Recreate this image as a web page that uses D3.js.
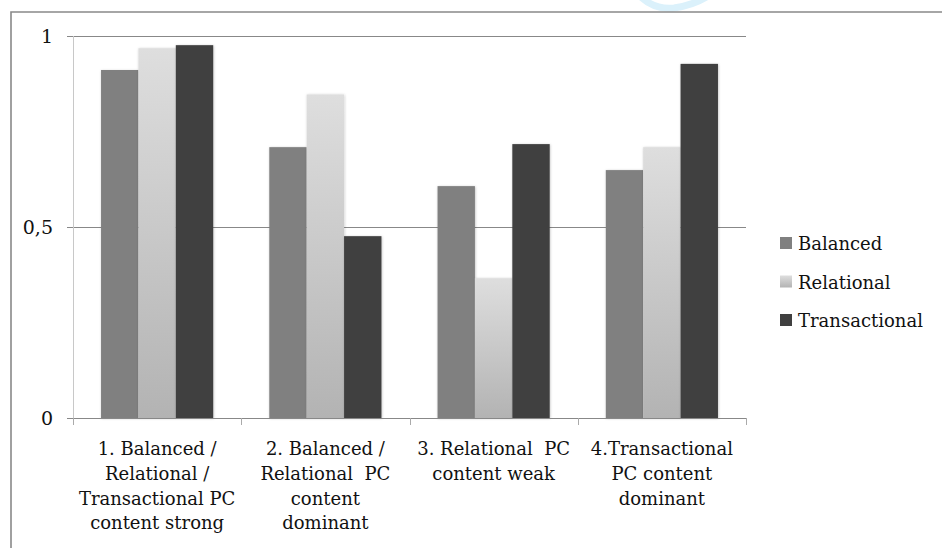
<!DOCTYPE html>
<html>
<head>
<meta charset="utf-8">
<script src="https://cdn.jsdelivr.net/npm/d3@7"></script>
<style>
  html, body { margin: 0; padding: 0; background: #fff; }
  svg { display: block; }
  text { font-family: "DejaVu Serif", "Liberation Serif", "Noto Serif", "Tinos", "FreeSerif", "Times New Roman", Times, serif; fill: #111; }
</style>
</head>
<body>
<div class="chart"></div>
<script>
// data
var categories = ["c1", "c2", "c3", "c4"];
var categoryLines = [
    ["1. Balanced /", "Relational /", "Transactional PC", "content strong"],
    ["2. Balanced /", "Relational  PC", "content", "dominant"],
    ["3. Relational  PC", "content weak"],
    ["4.Transactional", "PC content", "dominant"]
];
var seriesNames = ["Balanced", "Relational", "Transactional"];
var balanced = [0.911, 0.709, 0.607, 0.649];
var relational = [0.968, 0.847, 0.366, 0.709];
var transactional = [0.976, 0.476, 0.717, 0.927];
var yTicks = [0, 0.5, 1];
var yTickLabels = ["0", "0,5", "1"];

var seriesValues = [balanced, relational, transactional];

// canvas
var width = 942, height = 548;
var svg = d3.select(".chart").append("svg")
            .attr("width", width)
            .attr("height", height);

var defs = svg.append("defs");
var grad = defs.append("linearGradient").attr("id", "relGrad")
               .attr("x1", 0).attr("y1", 0).attr("x2", 0).attr("y2", 1);
grad.append("stop").attr("offset", "0%").attr("stop-color", "#dedede");
grad.append("stop").attr("offset", "100%").attr("stop-color", "#b3b3b3");
var shadow = defs.append("filter").attr("id", "shadow")
                 .attr("x", "-20%").attr("y", "-5%").attr("width", "140%").attr("height", "110%");
shadow.append("feDropShadow").attr("dx", 0.5).attr("dy", 0.5).attr("stdDeviation", 1.2)
      .attr("flood-color", "#000").attr("flood-opacity", 0.25);

var fills = ["#808080", "url(#relGrad)", "#404040"];

// faint watermark at the top
svg.append("path")
   .attr("d", "M640,-4 Q654,10 674,8 Q694,5 708,-4")
   .attr("fill", "none")
   .attr("stroke", "#dbf1fb")
   .attr("stroke-width", 7);

// frame (cropped at right and bottom)
svg.append("path")
   .attr("d", "M11," + height + " L11,12 L" + width + ",12")
   .attr("fill", "none")
   .attr("stroke", "#898989")
   .attr("stroke-width", 1.6);

var plot = {left: 73, right: 746, top: 36, bottom: 418};

// scales
var xScale = d3.scaleBand().domain(categories).range([plot.left, plot.right]);
var yScale = d3.scaleLinear().domain([0, 1]).range([plot.bottom, plot.top]);
var barW = xScale.bandwidth() / 4.5;

// gridlines
svg.selectAll(".grid").data(yTicks.filter(function(d) { return d > 0; })).enter().append("line")
   .attr("class", "grid")
   .attr("x1", plot.left - 6).attr("x2", plot.right)
   .attr("y1", function(d) { return yScale(d) + 0.5; })
   .attr("y2", function(d) { return yScale(d) + 0.5; })
   .attr("stroke", "#888");

// y axis line
svg.append("line")
   .attr("x1", plot.left + 0.5).attr("x2", plot.left + 0.5)
   .attr("y1", plot.top).attr("y2", plot.bottom)
   .attr("stroke", "#c8c8c8");

// y axis labels
var yAxis = d3.axisLeft(yScale).tickValues(yTicks).tickSize(0).tickPadding(20)
              .tickFormat(function(d, i) { return yTickLabels[i]; });
var gy = svg.append("g").attr("transform", "translate(" + plot.left + ",0)").call(yAxis);
gy.select(".domain").remove();
gy.selectAll("text")
  .attr("font-family", null)
  .attr("font-size", 19)
  .attr("fill", "#111");

// bars
var groups = svg.selectAll(".series").data(seriesValues).enter().append("g")
                .attr("class", "series")
                .attr("fill", function(d, i) { return fills[i]; });
groups.each(function(vals, s) {
    d3.select(this).selectAll("rect").data(vals).enter().append("rect")
      .attr("x", function(d, i) { return xScale(categories[i]) + barW * (0.75 + s); })
      .attr("width", barW)
      .attr("y", function(d) { return yScale(d); })
      .attr("height", function(d) { return plot.bottom - yScale(d); })
      .attr("filter", "url(#shadow)");
});

// x axis line with boundary ticks
svg.append("line")
   .attr("x1", plot.left - 6).attr("x2", plot.right)
   .attr("y1", plot.bottom + 0.5).attr("y2", plot.bottom + 0.5)
   .attr("stroke", "#888");
var bounds = categories.map(function(c) { return xScale(c); }).concat([plot.right]);
svg.selectAll(".xtick").data(bounds).enter().append("line")
   .attr("class", "xtick")
   .attr("x1", function(d) { return Math.round(d) + 0.5; })
   .attr("x2", function(d) { return Math.round(d) + 0.5; })
   .attr("y1", plot.bottom).attr("y2", plot.bottom + 7)
   .attr("stroke", "#aaa");

// category labels
var labels = svg.selectAll(".xlabel").data(categoryLines).enter().append("text")
                .attr("class", "xlabel")
                .attr("text-anchor", "middle")
                .attr("font-size", 18)
                .style("white-space", "pre");
labels.each(function(lines, i) {
    var cx = xScale(categories[i]) + xScale.bandwidth() / 2;
    d3.select(this).selectAll("tspan").data(lines).enter().append("tspan")
      .attr("x", cx)
      .attr("y", function(d, j) { return 455 + j * 24.8; })
      .text(function(d) { return d; });
});

// legend
var legend = svg.selectAll(".legend").data(seriesNames).enter().append("g")
                .attr("class", "legend")
                .attr("transform", function(d, i) { return "translate(780," + (237 + i * 38.5) + ")"; });
legend.append("rect")
      .attr("width", 12).attr("height", 12)
      .attr("fill", function(d, i) { return fills[i]; });
legend.append("text")
      .attr("x", 18).attr("y", 13)
      .attr("font-size", 18)
      .text(function(d) { return d; });
</script>
</body>
</html>
